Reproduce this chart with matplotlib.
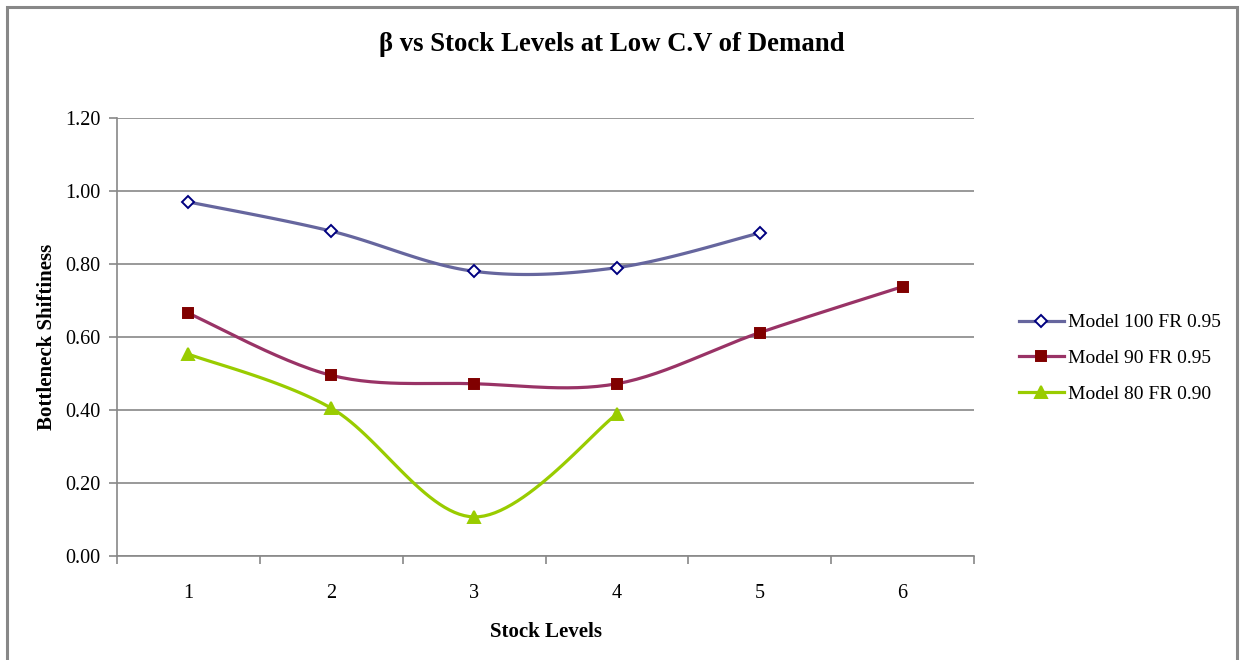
import numpy as np
import matplotlib.pyplot as plt
from matplotlib.patches import Rectangle

plt.rcParams['font.family'] = ['Liberation Serif', 'DejaVu Serif']

# stock levels and bottleneck shiftiness per model
levels = [1, 2, 3, 4, 5, 6]
model100 = [0.97, 0.89, 0.78, 0.79, 0.885]
model90 = [0.665, 0.495, 0.472, 0.472, 0.612, 0.738]
model80 = [0.553, 0.405, 0.107, 0.389]


def smooth(x, y, n=30):
    # cubic bezier through the points, catmull-rom style control points
    x = np.asarray(x, float)
    y = np.asarray(y, float)
    px, py = [], []
    for i in range(len(x) - 1):
        i0 = max(i - 1, 0)
        i3 = min(i + 2, len(x) - 1)
        c1x = x[i] + (x[i + 1] - x[i0]) / 6
        c1y = y[i] + (y[i + 1] - y[i0]) / 6
        c2x = x[i + 1] - (x[i3] - x[i]) / 6
        c2y = y[i + 1] - (y[i3] - y[i]) / 6
        t = np.linspace(0, 1, n)
        bx = (1-t)**3*x[i] + 3*(1-t)**2*t*c1x + 3*(1-t)*t**2*c2x + t**3*x[i+1]
        by = (1-t)**3*y[i] + 3*(1-t)**2*t*c1y + 3*(1-t)*t**2*c2y + t**3*y[i+1]
        px.extend(bx)
        py.extend(by)
    return px, py


fig = plt.figure(figsize=(12.41, 6.6), dpi=100)
ax = fig.add_axes([0.0943, 0.1576, 0.6906, 0.6636])

series = [
    (model100, "Model 100 FR 0.95", "#66669E", "D", "white", "#000080", 6),
    (model90, "Model 90 FR 0.95", "#993366", "s", "#800000", "#800000", 7),
    (model80, "Model 80 FR 0.90", "#99CC00", "^", "#99CC00", "#99CC00", 8),
]
handles = []
for vals, name, col, mk, face, edge, ms in series:
    xs = levels[:len(vals)]
    sx, sy = smooth(xs, vals)
    ax.plot(sx, sy, color=col, linewidth=2.3, solid_capstyle="round", zorder=3)
    ax.plot(xs, vals, linestyle="none", marker=mk, markersize=ms,
            markerfacecolor=face, markeredgecolor=edge, markeredgewidth=1.4, zorder=4)
    h, = ax.plot([], [], color=col, linewidth=2.3, marker=mk, markersize=ms,
                 markerfacecolor=face, markeredgecolor=edge, markeredgewidth=1.4)
    handles.append(h)

ax.set_xlim(0.5, 6.5)
ax.set_ylim(0, 1.2)
ax.set_yticks(np.arange(0, 1.21, 0.2))
ax.set_yticklabels(["{:.2f}".format(v) for v in np.arange(0, 1.21, 0.2)], fontsize=14.5)
ax.set_xticks(np.arange(0.5, 6.6, 1))
ax.set_xticklabels([])
ax.set_xticks(levels, minor=True)
ax.set_xticklabels([str(v) for v in levels], minor=True, fontsize=14.5)
ax.tick_params(axis="x", which="minor", length=0, pad=20)
ax.tick_params(axis="both", which="major", length=6, width=1.2, color="#888888")
ax.tick_params(axis="y", pad=6)
ax.yaxis.grid(True, color="#888888", linewidth=1.2)
ax.set_axisbelow(True)
for s in ["top", "right"]:
    ax.spines[s].set_visible(False)
for s in ["left", "bottom"]:
    ax.spines[s].set_color("#888888")
    ax.spines[s].set_linewidth(1.2)

ax.set_xlabel("Stock Levels", fontsize=15, fontweight="bold", labelpad=14)
ax.set_ylabel("Bottleneck Shiftiness", fontsize=15, fontweight="bold", labelpad=6)
fig.text(0.493, 0.932, "β vs Stock Levels at Low C.V of Demand", ha="center", va="center",
         fontsize=19.3, fontweight="bold")

fig.legend(handles, [s[1] for s in series], loc="center left",
           bbox_to_anchor=(0.807, 0.457), frameon=False, fontsize=14,
           handlelength=2.3, labelspacing=0.93, handletextpad=0.2)

# chart area border
fig.patches.append(Rectangle((7 / 1241, -0.05), 1230 / 1241, 1.05 - 7 / 660,
                             transform=fig.transFigure, fill=False,
                             edgecolor="#888888", linewidth=2.2))

fig.savefig("out.png", dpi=100)
